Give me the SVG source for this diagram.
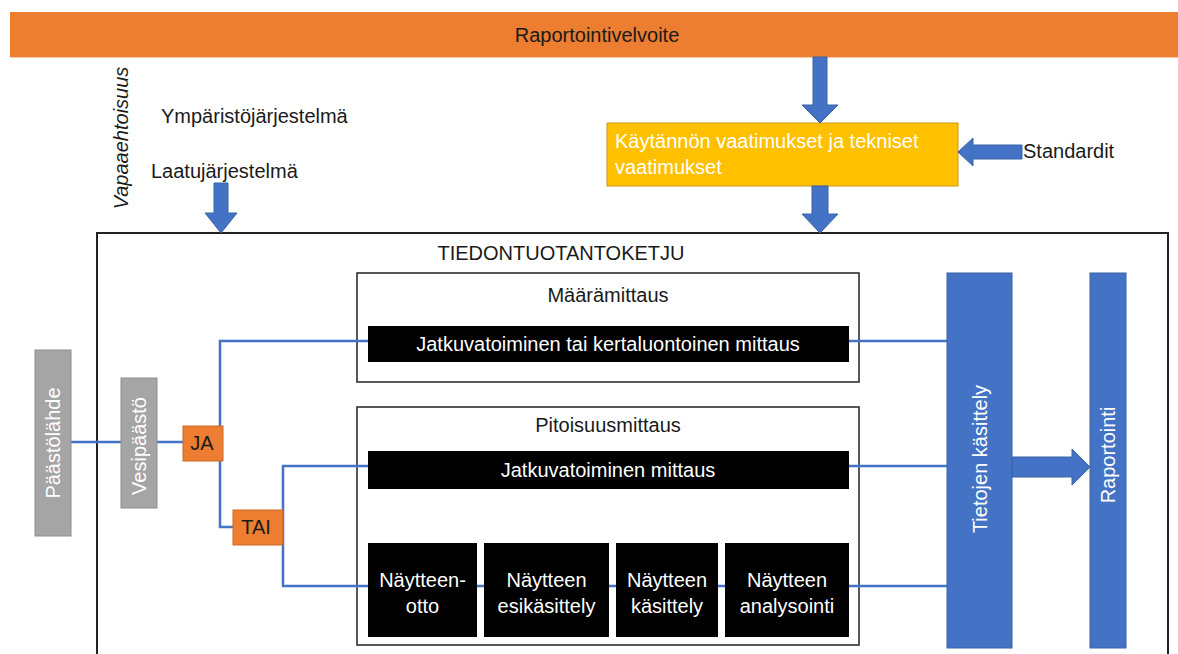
<svg xmlns="http://www.w3.org/2000/svg" width="1178" height="654" viewBox="0 0 1178 654">
<style>
  text { font-family: "Liberation Sans", Arial, sans-serif; font-size: 20px; }
  .dark { fill: #1a1a1a; }
  .white { fill: #ffffff; }
  .mid { text-anchor: middle; }
  .blk { fill: #000000; }
  .frame { fill: none; stroke: #222222; stroke-width: 1.5; }
  .blue { fill: #4472C4; stroke: #3a62a8; stroke-width: 1; }
  .gray { fill: #A5A5A5; stroke: #8f8f8f; stroke-width: 1; }
  .orange { fill: #ED7D31; stroke: #c96a28; stroke-width: 1; }
  .conn { fill: none; stroke: #4472C4; stroke-width: 2.5; }
  .arrow { fill: #4472C4; stroke: #3a62a8; stroke-width: 1; }
</style>

<rect width="1178" height="654" fill="#ffffff"/>

<g id="raportointivelvoite">
  <rect x="10" y="12" width="1168" height="45" fill="#ED7D31"/>
  <line x1="10" y1="57.5" x2="1178" y2="57.5" stroke="#f6c7a4" stroke-width="1"/>
  <text x="597" y="42" class="dark mid">Raportointivelvoite</text>
</g>

<g id="vapaaehtoisuus">
  <text transform="translate(128,138) rotate(-90)" class="dark mid" font-style="italic">Vapaaehtoisuus</text>
</g>
<g id="ymparistojarjestelma">
  <text x="161" y="123" class="dark">Ympäristöjärjestelmä</text>
</g>
<g id="laatujarjestelma">
  <text x="151" y="178" class="dark">Laatujärjestelmä</text>
</g>

<g id="vaatimukset">
  <rect x="607" y="123" width="351" height="63" fill="#FFC000" stroke="#c99a10" stroke-width="1"/>
  <text x="615" y="148" class="white">Käytännön vaatimukset ja tekniset</text>
  <text x="615" y="174" class="white">vaatimukset</text>
</g>

<g id="standardit">
  <text x="1023" y="158" class="dark">Standardit</text>
</g>

<g id="tiedontuotantoketju">
  <rect x="97" y="233" width="1071" height="440" fill="none" stroke="#222222" stroke-width="2"/>
  <text x="561" y="260" class="dark mid" font-size="17">TIEDONTUOTANTOKETJU</text>
</g>

<g id="maaramittaus">
  <rect x="357" y="273" width="502" height="109" class="frame"/>
  <text x="608" y="302" class="dark mid">Määrämittaus</text>
</g>
<g id="pitoisuusmittaus">
  <rect x="357" y="407" width="502" height="238" class="frame"/>
  <text x="608" y="432" class="dark mid">Pitoisuusmittaus</text>
</g>

<g id="connectors">
  <polygon class="arrow" points="813,57 827,57 827,105 838,105 820,123 802,105 813,105"/>
  <polygon class="arrow" points="812,186 828,186 828,214 838,214 820,233 802,214 812,214"/>
  <polygon class="arrow" points="214,183 228,183 228,213 237,213 221,233 205,213 214,213"/>
  <polygon class="arrow" points="958,152 973,138 973,145 1022,145 1022,159 973,159 973,166"/>
  <polygon class="arrow" points="1012,457 1072,457 1072,449 1090,467 1072,485 1072,477 1012,477"/>
  <path class="conn" d="M71,442 H121"/>
  <path class="conn" d="M157,442 H183"/>
  <path class="conn" d="M220,426 V341 H368"/>
  <path class="conn" d="M220,461 V527 H233"/>
  <path class="conn" d="M368,466 H283 V586 H368"/>
  <path class="conn" d="M368,586 H849"/>
  <path class="conn" d="M849,341 H947"/>
  <path class="conn" d="M849,466 H947"/>
  <path class="conn" d="M849,586 H947"/>
</g>

<g id="paastolahde">
  <rect x="35" y="350" width="36" height="186" class="gray"/>
  <text transform="translate(60,443) rotate(-90)" class="white mid">Päästölähde</text>
</g>
<g id="vesipaasto">
  <rect x="121" y="378" width="36" height="130" class="gray"/>
  <text transform="translate(146,446) rotate(-90)" class="white mid" font-size="21">Vesipäästö</text>
</g>
<g id="ja">
  <rect x="183" y="426" width="40" height="35" class="orange"/>
  <text x="202" y="450" class="dark mid" font-size="17">JA</text>
</g>
<g id="tai">
  <rect x="233" y="510" width="50" height="35" class="orange"/>
  <text x="256" y="534" class="dark mid" font-size="17">TAI</text>
</g>

<g id="maara-mittaus-bar">
  <rect x="368" y="326" width="481" height="36" class="blk"/>
  <text x="608" y="351" class="white mid">Jatkuvatoiminen tai kertaluontoinen mittaus</text>
</g>
<g id="jatkuvatoiminen-mittaus">
  <rect x="368" y="451" width="481" height="38" class="blk"/>
  <text x="608" y="477" class="white mid">Jatkuvatoiminen mittaus</text>
</g>
<g id="naytteenotto">
  <rect x="368" y="543" width="109" height="94" class="blk"/>
  <text x="422.5" y="587" class="white mid">Näytteen-</text>
  <text x="422.5" y="613" class="white mid">otto</text>
</g>
<g id="esikasittely">
  <rect x="484" y="543" width="125" height="94" class="blk"/>
  <text x="546.5" y="587" class="white mid">Näytteen</text>
  <text x="546.5" y="613" class="white mid">esikäsittely</text>
</g>
<g id="kasittely">
  <rect x="616" y="543" width="102" height="94" class="blk"/>
  <text x="667" y="587" class="white mid">Näytteen</text>
  <text x="667" y="613" class="white mid">käsittely</text>
</g>
<g id="analysointi">
  <rect x="725" y="543" width="124" height="94" class="blk"/>
  <text x="787" y="587" class="white mid">Näytteen</text>
  <text x="787" y="613" class="white mid">analysointi</text>
</g>

<g id="tietojen-kasittely">
  <rect x="947" y="273" width="65" height="375" class="blue"/>
  <text transform="translate(987,459) rotate(-90)" class="white mid">Tietojen käsittely</text>
</g>
<g id="raportointi">
  <rect x="1090" y="273" width="36" height="375" class="blue"/>
  <text transform="translate(1115,455) rotate(-90)" class="white mid">Raportointi</text>
</g>
</svg>
